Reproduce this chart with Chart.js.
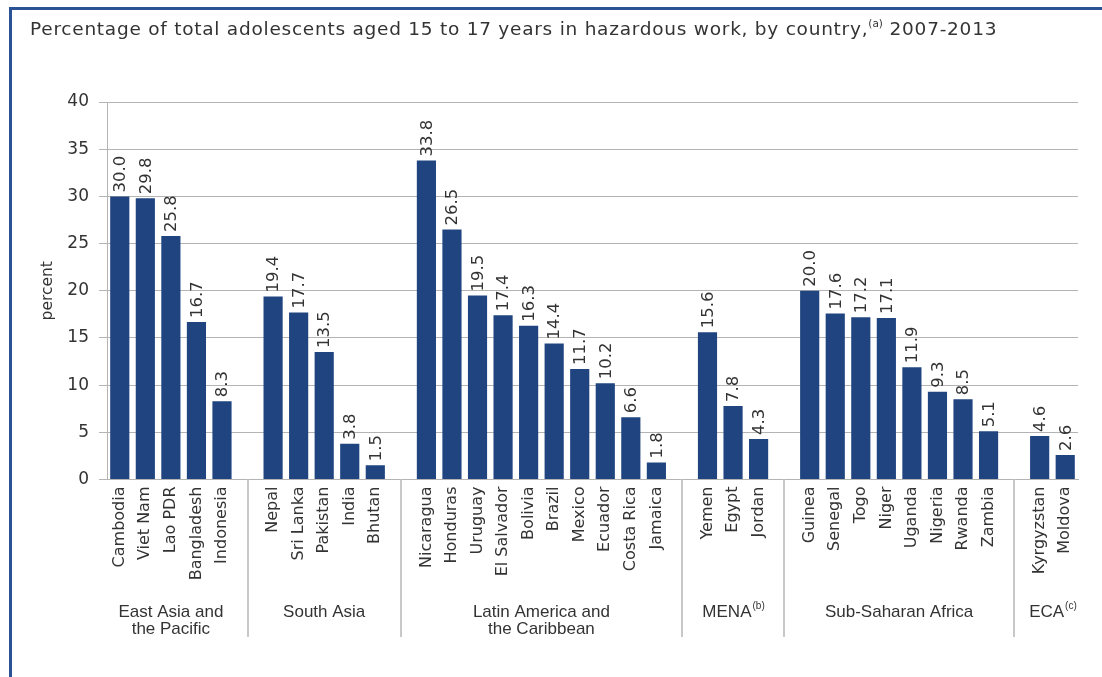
<!DOCTYPE html>
<html>
<head>
<meta charset="utf-8">
<script src="https://cdn.jsdelivr.net/npm/chart.js@4"></script>
<style>
  body { margin: 0; background: #fff; }
  #wrap { position: absolute; left: 0; top: 0; width: 1102px; height: 677px; }
  #frame { position: absolute; left: 9px; top: 7px; width: 1093px; height: 670px;
           border-top: 3px solid #2b5294; border-left: 3px solid #2b5294; box-sizing: border-box; }
  #title { position: absolute; left: 30px; top: 18px; font-family: "DejaVu Sans", sans-serif;
           font-size: 18.5px; letter-spacing: 0.75px; color: #333; white-space: nowrap; }
  #title sup { font-size: 10.5px; letter-spacing: 0; vertical-align: 8px; line-height: 0; }
</style>
</head>
<body>
<div id="wrap">
  <canvas id="myChart" width="1102" height="677"></canvas>
  <div id="frame"></div>
  <div id="title">Percentage of total adolescents aged 15 to 17 years in hazardous work, by country,<sup>(a)</sup> 2007-2013</div>
</div>
<script>
const groupNames = [['East Asia and', 'the Pacific'], ['South Asia'], ['Latin America and', 'the Caribbean'], ['MENA', '(b)'], ['Sub-Saharan Africa'], ['ECA', '(c)']];

const eastAsia = ['Cambodia', 'Viet Nam', 'Lao PDR', 'Bangladesh', 'Indonesia'];
const eastAsiaValues = [30.0, 29.8, 25.8, 16.7, 8.3];
const southAsia = ['Nepal', 'Sri Lanka', 'Pakistan', 'India', 'Bhutan'];
const southAsiaValues = [19.4, 17.7, 13.5, 3.8, 1.5];
const latinAmerica = ['Nicaragua', 'Honduras', 'Uruguay', 'El Salvador', 'Bolivia', 'Brazil', 'Mexico', 'Ecuador', 'Costa Rica', 'Jamaica'];
const latinAmericaValues = [33.8, 26.5, 19.5, 17.4, 16.3, 14.4, 11.7, 10.2, 6.6, 1.8];
const mena = ['Yemen', 'Egypt', 'Jordan'];
const menaValues = [15.6, 7.8, 4.3];
const subSaharan = ['Guinea', 'Senegal', 'Togo', 'Niger', 'Uganda', 'Nigeria', 'Rwanda', 'Zambia'];
const subSaharanValues = [20.0, 17.6, 17.2, 17.1, 11.9, 9.3, 8.5, 5.1];
const eca = ['Kyrgyzstan', 'Moldova'];
const ecaValues = [4.6, 2.6];

const yTicks = [0, 5, 10, 15, 20, 25, 30, 35, 40];

// one empty slot between groups
const groupCountries = [eastAsia, southAsia, latinAmerica, mena, subSaharan, eca];
const groupValues = [eastAsiaValues, southAsiaValues, latinAmericaValues, menaValues, subSaharanValues, ecaValues];
const labels = [];
const numbers = [];
const groupSpans = [];
const gapIndexes = [];
groupCountries.forEach((g, gi) => {
    if (gi > 0) {
        gapIndexes.push(labels.length);
        labels.push('');
        numbers.push(null);
    }
    const start = labels.length;
    g.forEach((c, ci) => {
        labels.push(c);
        numbers.push(groupValues[gi][ci]);
    });
    groupSpans.push([start, labels.length - 1]);
});

const textColor = '#333333';
const gridColor = '#b4b4b4';

const valueLabels = {
    id: 'valueLabels',
    afterDatasetsDraw(chart) {
        const ctx = chart.ctx;
        const meta = chart.getDatasetMeta(0);
        ctx.save();
        ctx.fillStyle = textColor;
        ctx.font = '16.5px "DejaVu Sans", sans-serif';
        ctx.textAlign = 'left';
        ctx.textBaseline = 'middle';
        meta.data.forEach((bar, i) => {
            const v = numbers[i];
            if (v === null) return;
            ctx.save();
            ctx.translate(bar.x, bar.y - 4);
            ctx.rotate(-Math.PI / 2);
            ctx.fillText(v.toFixed(1), 0, 1);
            ctx.restore();
        });
        ctx.restore();
    }
};

const groupLabels = {
    id: 'groupLabels',
    afterDraw(chart) {
        const ctx = chart.ctx;
        const x = chart.scales.x;
        const bottom = chart.chartArea.bottom;
        ctx.save();
        ctx.strokeStyle = '#c8c8c8';
        ctx.lineWidth = 2;
        gapIndexes.forEach(i => {
            const px = Math.round(x.getPixelForValue(i));
            ctx.beginPath();
            ctx.moveTo(px, bottom);
            ctx.lineTo(px, 637);
            ctx.stroke();
        });
        ctx.fillStyle = textColor;
        ctx.textBaseline = 'middle';
        const mainFont = '17px "Liberation Sans Narrow", "Liberation Sans", sans-serif';
        const supFont = '10px "Liberation Sans Narrow", "Liberation Sans", sans-serif';
        groupNames.forEach((name, gi) => {
            const cx = (x.getPixelForValue(groupSpans[gi][0]) + x.getPixelForValue(groupSpans[gi][1])) / 2;
            if (name[1] && name[1].startsWith('(')) {
                ctx.font = mainFont;
                const w1 = ctx.measureText(name[0]).width;
                ctx.font = supFont;
                const w2 = ctx.measureText(name[1]).width;
                const left = cx - (w1 + w2) / 2;
                ctx.textAlign = 'left';
                ctx.font = mainFont;
                ctx.fillText(name[0], left, 612);
                ctx.font = supFont;
                ctx.fillText(name[1], left + w1 + 1, 606);
            } else {
                ctx.font = mainFont;
                ctx.textAlign = 'center';
                name.forEach((line, li) => ctx.fillText(line, cx, 612 + li * 17));
            }
        });
        ctx.restore();
    }
};

const data = {
    labels: labels,
    datasets: [{
        label: 'percent',
        backgroundColor: '#1f4480',
        data: numbers,
        categoryPercentage: 1,
        barPercentage: 0.75,
    }]
};

const config = {
    type: 'bar',
    data: data,
    plugins: [valueLabels, groupLabels],
    options: {
        responsive: false,
        animation: false,
        layout: { padding: { top: 102, left: 30, right: 24, bottom: 0 } },
        plugins: {
            legend: { display: false },
            tooltip: { enabled: false },
        },
        scales: {
            y: {
                min: 0,
                max: 40,
                afterBuildTicks: (scale) => { scale.ticks = yTicks.map(v => ({ value: v })); },
                afterFit: (scale) => { scale.width = 77; },
                ticks: {
                    color: textColor,
                    padding: 10,
                    font: { family: '"DejaVu Sans", sans-serif', size: 17 },
                },
                grid: { color: gridColor, tickLength: 8, lineWidth: 1 },
                border: { color: gridColor },
                title: {
                    display: true,
                    text: 'percent',
                    color: textColor,
                    padding: { top: 9, bottom: 0 },
                    font: { family: '"DejaVu Sans", sans-serif', size: 15.5 },
                },
            },
            x: {
                afterFit: (scale) => { scale.height = 197.5; },
                ticks: {
                    color: textColor,
                    autoSkip: false,
                    maxRotation: 90,
                    minRotation: 90,
                    padding: 7,
                    font: { family: '"DejaVu Sans", sans-serif', size: 16 },
                },
                grid: { display: false, drawTicks: false },
                border: { color: gridColor },
            },
        },
    },
};

const myChart = new Chart(document.getElementById('myChart'), config);
</script>
</body>
</html>
